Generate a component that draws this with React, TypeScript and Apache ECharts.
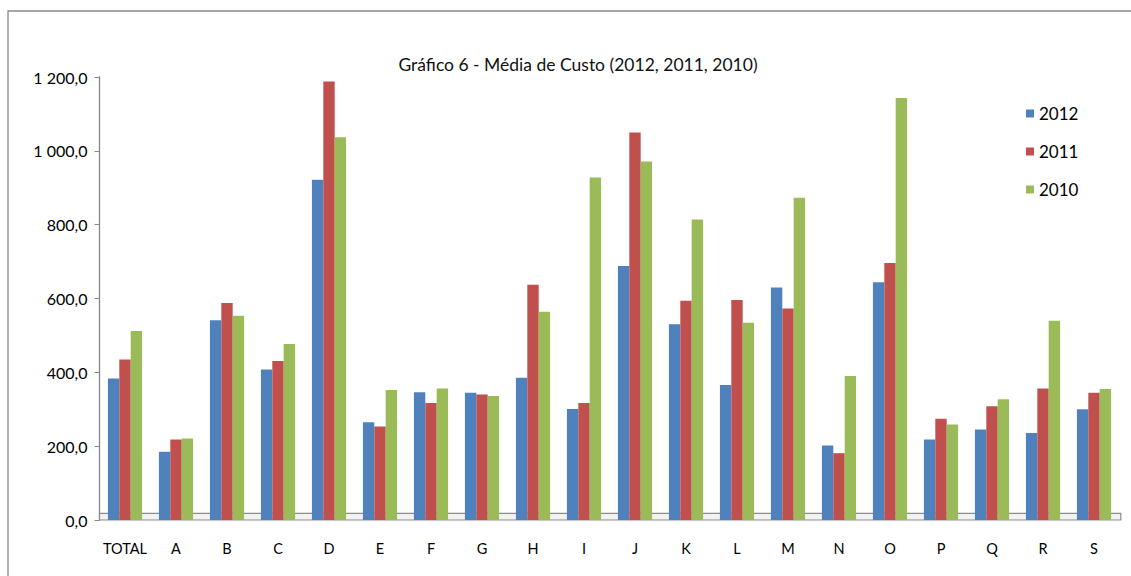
import React, { useEffect, useRef } from "react";
import * as echarts from "echarts";

const categories = ["TOTAL", "A", "B", "C", "D", "E", "F", "G", "H", "I", "J", "K", "L", "M", "N", "O", "P", "Q", "R", "S"];
const seriesNames = ["2012", "2011", "2010"];
const values2012 = [383, 185, 541, 408, 922, 265, 346, 345, 385, 301, 688, 530, 366, 630, 202, 644, 218, 245, 236, 300];
const values2011 = [435, 218, 588, 431, 1188, 253, 317, 340, 637, 317, 1050, 594, 596, 573, 181, 696, 274, 308, 356, 345];
const values2010 = [512, 221, 553, 477, 1037, 352, 356, 336, 564, 928, 971, 814, 534, 873, 390, 1143, 259, 327, 540, 355];
const yTicks = [0, 200, 400, 600, 800, 1000, 1200];
const colors = ["#4F81BD", "#C0504D", "#9BBB59"];
const title = "Gráfico 6 - Média de Custo (2012, 2011, 2010)";

const FONT = "Lato, 'Open Sans', sans-serif";

function fmt(v: number): string {
  const s = v.toFixed(1).replace(".", ",");
  const [int, dec] = s.split(",");
  const withSp = int.replace(/\B(?=(\d{3})+(?!\d))/g, " ");
  return withSp + "," + dec;
}

export default function App() {
  const ref = useRef<HTMLDivElement>(null);
  useEffect(() => {
    if (!ref.current) return;
    const chart = echarts.init(ref.current, undefined, { renderer: "svg" });
    const data = [values2012, values2011, values2010];
    const series: any[] = seriesNames.map((name, i) => ({
      name,
      type: "bar",
      data: data[i],
      barGap: "0%",
      barCategoryGap: "33%",
      itemStyle: { color: colors[i] },
      z: 3,
    }));
    series[0].markArea = {
      silent: true,
      z: 1,
      itemStyle: { color: "#F2F2F2", borderColor: "#8C8C8C", borderWidth: 1.2 },
      data: [[{ yAxis: 0, x: "8.8%" }, { yAxis: 18, x: "99.1%" }]],
    };
    chart.setOption({
      animation: false,
      backgroundColor: "#ffffff",
      textStyle: { fontFamily: FONT },
      title: {
        text: title,
        left: 573,
        textAlign: "center",
        top: 50,
        textStyle: { fontFamily: FONT, fontSize: 17.5, fontWeight: "normal", color: "#111" },
      },
      legend: {
        orient: "vertical",
        left: 1021,
        top: 100,
        itemWidth: 8,
        itemHeight: 8,
        itemGap: 21,
        icon: "rect",
        data: seriesNames,
        textStyle: { fontFamily: FONT, fontSize: 17, color: "#000", padding: [0, 0, 0, 0] },
      },
      grid: { left: 99.5, right: 11.5, top: 77, bottom: 56, containLabel: false },
      xAxis: {
        type: "category",
        data: categories,
        axisLine: { show: false },
        axisTick: { show: false },
        axisLabel: { color: "#000", fontSize: 14.5, margin: 21, fontFamily: FONT, interval: 0 },
      },
      yAxis: {
        type: "value",
        min: yTicks[0],
        max: yTicks[yTicks.length - 1],
        interval: 200,
        axisLine: { show: true, lineStyle: { color: "#868686", width: 1.3 } },
        axisTick: { show: true, length: 5, lineStyle: { color: "#868686" } },
        splitLine: { show: false },
        axisLabel: {
          color: "#000",
          fontSize: 16,
          margin: 12,
          fontFamily: FONT,
          formatter: (v: number) => fmt(v),
        },
      },
      graphic: [
        {
          type: "rect",
          shape: { x: 8, y: 11, width: 1200, height: 700 },
          style: { fill: "none", stroke: "#8A8A8A", lineWidth: 1.3 },
          silent: true,
          z: -1,
        },
      ],
      series,
    });
    return () => chart.dispose();
  }, []);
  return (
    <div
      ref={ref}
      style={{ position: "fixed", left: 0, top: 0, width: 1131, height: 576, background: "#fff" }}
    />
  );
}
